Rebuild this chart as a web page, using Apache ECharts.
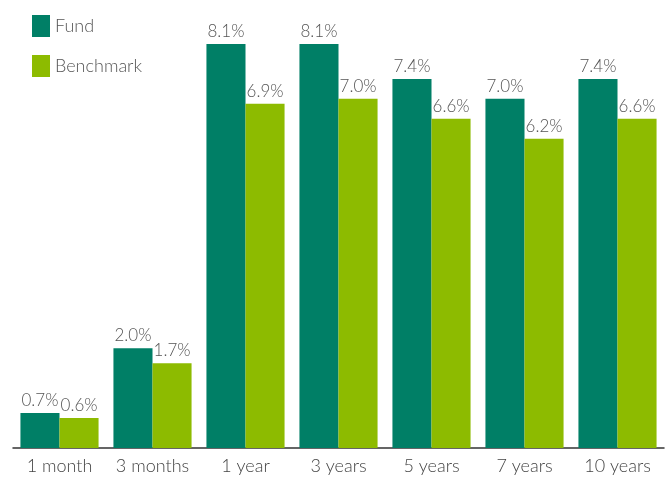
<!DOCTYPE html>
<html>
<head>
<meta charset="utf-8">
<script src="https://cdn.jsdelivr.net/npm/echarts@6/dist/echarts.min.js"></script>
<style>
    html, body { margin: 0; padding: 0; background: #fff; }
    #chart { width: 667px; height: 477px; }
</style>
</head>
<body>
<div id="chart"></div>
<script>
const periods = ["1 month", "3 months", "1 year", "3 years", "5 years", "7 years", "10 years"];
const fund = [0.7, 2.0, 8.1, 8.1, 7.4, 7.0, 7.4];
const benchmark = [0.6, 1.7, 6.9, 7.0, 6.6, 6.2, 6.6];

const chart = echarts.init(document.getElementById("chart"));
const labelStyle = {
    show: true,
    position: "top",
    distance: 4,
    color: "#555",
    fontFamily: "Lato",
    fontWeight: 300,
    fontSize: 17,
    formatter: (p) => p.value.toFixed(1) + "%",
};
chart.setOption({
    animation: false,
    legend: {
        orient: "vertical",
        left: 27,
        top: 10,
        itemWidth: 18,
        itemHeight: 22,
        itemGap: 18,
        icon: "rect",
        textStyle: {
            color: "#555",
            fontFamily: "Lato",
            fontWeight: 300,
            fontSize: 18,
        },
    },
    grid: { left: 13, right: 3, top: 44, bottom: 29 },
    xAxis: {
        type: "category",
        data: periods,
        axisTick: { show: false },
        axisLine: { lineStyle: { color: "#333", width: 1.5 } },
        axisLabel: {
            interval: 0,
            hideOverlap: false,
            color: "#444",
            fontFamily: "Lato",
            fontWeight: 300,
            fontSize: 18,
            margin: 9,
        },
    },
    yAxis: {
        type: "value",
        min: 0,
        max: 8.1,
        show: false,
        splitLine: { show: false },
    },
    series: [
        {
            name: "Fund",
            type: "bar",
            data: fund,
            barGap: "0%",
            barCategoryGap: "16%",
            itemStyle: { color: "#007f66" },
            label: labelStyle,
        },
        {
            name: "Benchmark",
            type: "bar",
            data: benchmark,
            itemStyle: { color: "#8dbb00" },
            label: labelStyle,
        },
    ],
});
</script>
</body>
</html>
